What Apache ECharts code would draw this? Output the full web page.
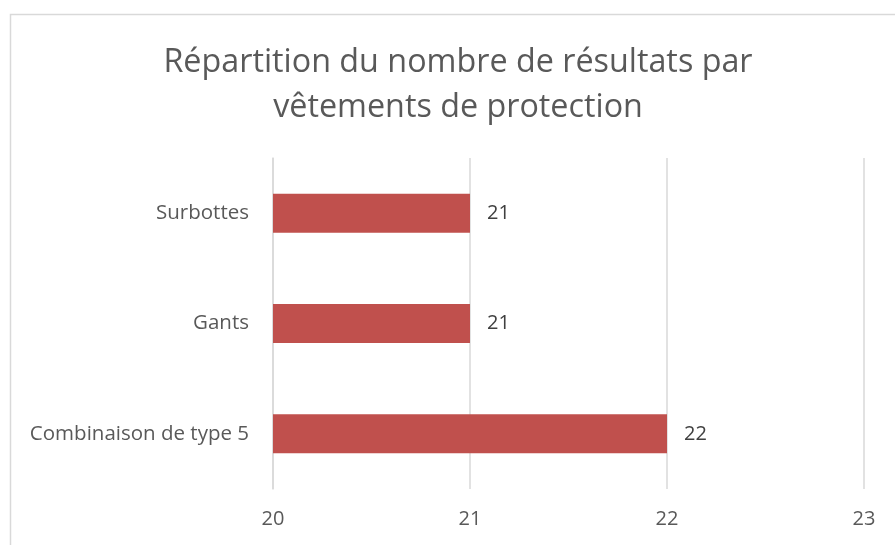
<!DOCTYPE html>
<html>
<head>
<meta charset="utf-8">
<script src="https://cdn.jsdelivr.net/npm/echarts@6/dist/echarts.min.js"></script>
<style>
  html, body { margin: 0; padding: 0; background: #ffffff; }
  #chart { width: 895px; height: 545px; }
</style>
</head>
<body>
<div id="chart"></div>
<script>
// Protective clothing categories (bottom to top on the vertical axis)
const categories = ['Combinaison de type 5', 'Gants', 'Surbottes'];
const counts = [22, 21, 21];
const axisMin = 20;
const axisMax = 23;
const axisStep = 1;

const FONT = '"Open Sans", "Noto Sans", sans-serif';

const chart = echarts.init(document.getElementById('chart'), null, { renderer: 'canvas' });

chart.setOption({
  backgroundColor: '#ffffff',
  animation: false,
  title: {
    text: 'Répartition du nombre de résultats par\nvêtements de protection',
    left: 453,
    textAlign: 'center',
    top: 35,
    textStyle: {
      fontFamily: FONT,
      fontSize: 32.3,
      fontWeight: 'normal',
      color: '#595959',
      lineHeight: 45
    }
  },
  graphic: [{
    type: 'rect',
    shape: { x: 10.5, y: 14.5, width: 1000, height: 1000 },
    style: { fill: 'none', stroke: '#d9d9d9', lineWidth: 1.5 },
    silent: true,
    z: -1
  }],
  grid: {
    left: 273,
    right: 31,
    top: 158,
    bottom: 56,
    containLabel: false
  },
  xAxis: {
    type: 'value',
    min: axisMin,
    max: axisMax,
    interval: axisStep,
    axisLine: { show: false },
    axisTick: { show: false },
    splitLine: { show: true, lineStyle: { color: '#d9d9d9', width: 1.5 } },
    axisLabel: {
      fontFamily: FONT,
      fontSize: 20,
      color: '#595959',
      margin: 20
    }
  },
  yAxis: {
    type: 'category',
    data: categories,
    axisLine: { show: true, lineStyle: { color: '#d9d9d9', width: 1.5 } },
    axisTick: { show: false },
    axisLabel: {
      fontFamily: FONT,
      fontSize: 20.5,
      color: '#595959',
      margin: 24
    }
  },
  series: [{
    type: 'bar',
    data: counts,
    barWidth: 39,
    itemStyle: { color: '#C0504D' },
    label: {
      show: true,
      position: 'right',
      distance: 17,
      fontFamily: FONT,
      fontSize: 20,
      color: '#404040'
    }
  }]
});
</script>
</body>
</html>
